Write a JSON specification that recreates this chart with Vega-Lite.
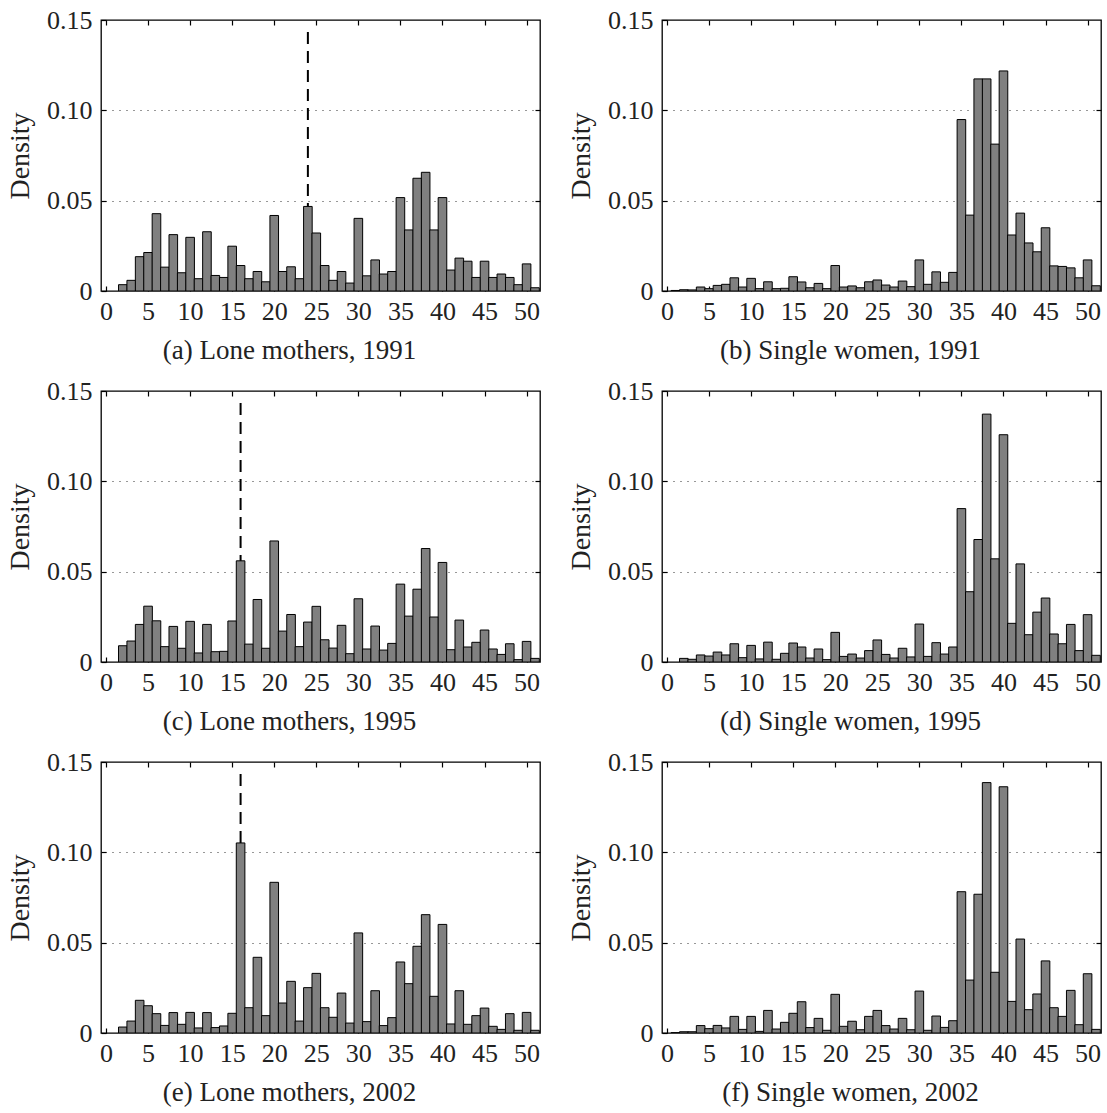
{
  "$schema": "https://vega.github.io/schema/vega-lite/v6.json",
  "background": "white",
  "padding": {"left": 5, "top": 6, "right": 5, "bottom": 5},
  "config": {
    "view": {"stroke": "black", "strokeWidth": 1.3},
    "font": "Liberation Serif",
    "axis": {"labelFont": "Liberation Serif", "titleFont": "Liberation Serif", "labelFontSize": 26, "titleFontSize": 28, "titleFontWeight": "normal", "labelColor": "#222", "titleColor": "#222", "domain": false, "tickColor": "black", "tickSize": -5, "tickWidth": 1.2, "grid": false},
    "axisBottom": {"labelPadding": 12},
    "axisLeft": {"labelPadding": 14, "titlePadding": 12},
    "axisTop": {"labels": false},
    "axisRight": {"labels": false, "grid": true, "gridDash": [1, 6], "gridColor": "#333", "gridWidth": 1.2},
    "title": {"font": "Liberation Serif", "fontSize": 27, "fontWeight": "normal", "color": "#222", "offset": 14, "dx": -31}
  },
  "datasets": {
    "hist": [
      {"p":"a","h":2,"d":0.0035},{"p":"a","h":3,"d":0.0059},{"p":"a","h":4,"d":0.019},{"p":"a","h":5,"d":0.0213},{"p":"a","h":6,"d":0.0428},{"p":"a","h":7,"d":0.0132},{"p":"a","h":8,"d":0.0312},{"p":"a","h":9,"d":0.0101},{"p":"a","h":10,"d":0.0297},{"p":"a","h":11,"d":0.0068},{"p":"a","h":12,"d":0.0328},{"p":"a","h":13,"d":0.0086},{"p":"a","h":14,"d":0.0075},{"p":"a","h":15,"d":0.0248},{"p":"a","h":16,"d":0.0141},{"p":"a","h":17,"d":0.0068},{"p":"a","h":18,"d":0.0108},{"p":"a","h":19,"d":0.0051},{"p":"a","h":20,"d":0.0418},{"p":"a","h":21,"d":0.0108},{"p":"a","h":22,"d":0.0134},{"p":"a","h":23,"d":0.0068},{"p":"a","h":24,"d":0.0468},{"p":"a","h":25,"d":0.0321},{"p":"a","h":26,"d":0.0141},{"p":"a","h":27,"d":0.0059},{"p":"a","h":28,"d":0.0108},{"p":"a","h":29,"d":0.0044},{"p":"a","h":30,"d":0.0402},{"p":"a","h":31,"d":0.0084},{"p":"a","h":32,"d":0.0172},{"p":"a","h":33,"d":0.0094},{"p":"a","h":34,"d":0.0108},{"p":"a","h":35,"d":0.0517},{"p":"a","h":36,"d":0.0338},{"p":"a","h":37,"d":0.0624},{"p":"a","h":38,"d":0.0657},{"p":"a","h":39,"d":0.0338},{"p":"a","h":40,"d":0.0517},{"p":"a","h":41,"d":0.0116},{"p":"a","h":42,"d":0.0182},{"p":"a","h":43,"d":0.0165},{"p":"a","h":44,"d":0.0075},{"p":"a","h":45,"d":0.0165},{"p":"a","h":46,"d":0.0075},{"p":"a","h":47,"d":0.0094},{"p":"a","h":48,"d":0.0075},{"p":"a","h":49,"d":0.0035},{"p":"a","h":50,"d":0.015},{"p":"a","h":51,"d":0.0018},
      {"p":"b","h":1,"d":0.0003},{"p":"b","h":2,"d":0.0007},{"p":"b","h":3,"d":0.0006},{"p":"b","h":4,"d":0.0022},{"p":"b","h":5,"d":0.0013},{"p":"b","h":6,"d":0.0031},{"p":"b","h":7,"d":0.0037},{"p":"b","h":8,"d":0.0073},{"p":"b","h":9,"d":0.0022},{"p":"b","h":10,"d":0.007},{"p":"b","h":11,"d":0.0013},{"p":"b","h":12,"d":0.0051},{"p":"b","h":13,"d":0.0013},{"p":"b","h":14,"d":0.0015},{"p":"b","h":15,"d":0.0079},{"p":"b","h":16,"d":0.005},{"p":"b","h":17,"d":0.0018},{"p":"b","h":18,"d":0.0042},{"p":"b","h":19,"d":0.0013},{"p":"b","h":20,"d":0.0141},{"p":"b","h":21,"d":0.0022},{"p":"b","h":22,"d":0.0028},{"p":"b","h":23,"d":0.0018},{"p":"b","h":24,"d":0.0051},{"p":"b","h":25,"d":0.0061},{"p":"b","h":26,"d":0.0033},{"p":"b","h":27,"d":0.0022},{"p":"b","h":28,"d":0.0055},{"p":"b","h":29,"d":0.0024},{"p":"b","h":30,"d":0.0172},{"p":"b","h":31,"d":0.0037},{"p":"b","h":32,"d":0.0106},{"p":"b","h":33,"d":0.0048},{"p":"b","h":34,"d":0.0103},{"p":"b","h":35,"d":0.0949},{"p":"b","h":36,"d":0.042},{"p":"b","h":37,"d":0.1174},{"p":"b","h":38,"d":0.1174},{"p":"b","h":39,"d":0.0813},{"p":"b","h":40,"d":0.1218},{"p":"b","h":41,"d":0.031},{"p":"b","h":42,"d":0.0431},{"p":"b","h":43,"d":0.0266},{"p":"b","h":44,"d":0.0217},{"p":"b","h":45,"d":0.035},{"p":"b","h":46,"d":0.0139},{"p":"b","h":47,"d":0.0136},{"p":"b","h":48,"d":0.0128},{"p":"b","h":49,"d":0.0073},{"p":"b","h":50,"d":0.0172},{"p":"b","h":51,"d":0.0029},
      {"p":"c","h":2,"d":0.009},{"p":"c","h":3,"d":0.0116},{"p":"c","h":4,"d":0.0208},{"p":"c","h":5,"d":0.0309},{"p":"c","h":6,"d":0.0228},{"p":"c","h":7,"d":0.0085},{"p":"c","h":8,"d":0.0197},{"p":"c","h":9,"d":0.0076},{"p":"c","h":10,"d":0.0225},{"p":"c","h":11,"d":0.005},{"p":"c","h":12,"d":0.0208},{"p":"c","h":13,"d":0.0057},{"p":"c","h":14,"d":0.0059},{"p":"c","h":15,"d":0.0227},{"p":"c","h":16,"d":0.056},{"p":"c","h":17,"d":0.0099},{"p":"c","h":18,"d":0.0346},{"p":"c","h":19,"d":0.0076},{"p":"c","h":20,"d":0.067},{"p":"c","h":21,"d":0.0171},{"p":"c","h":22,"d":0.0263},{"p":"c","h":23,"d":0.0085},{"p":"c","h":24,"d":0.0221},{"p":"c","h":25,"d":0.0308},{"p":"c","h":26,"d":0.0123},{"p":"c","h":27,"d":0.0077},{"p":"c","h":28,"d":0.0203},{"p":"c","h":29,"d":0.0046},{"p":"c","h":30,"d":0.035},{"p":"c","h":31,"d":0.0072},{"p":"c","h":32,"d":0.0199},{"p":"c","h":33,"d":0.0066},{"p":"c","h":34,"d":0.0103},{"p":"c","h":35,"d":0.0431},{"p":"c","h":36,"d":0.0254},{"p":"c","h":37,"d":0.0403},{"p":"c","h":38,"d":0.0628},{"p":"c","h":39,"d":0.0249},{"p":"c","h":40,"d":0.0551},{"p":"c","h":41,"d":0.0068},{"p":"c","h":42,"d":0.0232},{"p":"c","h":43,"d":0.0083},{"p":"c","h":44,"d":0.0109},{"p":"c","h":45,"d":0.0177},{"p":"c","h":46,"d":0.0072},{"p":"c","h":47,"d":0.0042},{"p":"c","h":48,"d":0.0101},{"p":"c","h":49,"d":0.0013},{"p":"c","h":50,"d":0.0114},{"p":"c","h":51,"d":0.002},
      {"p":"d","h":2,"d":0.002},{"p":"d","h":3,"d":0.0015},{"p":"d","h":4,"d":0.0039},{"p":"d","h":5,"d":0.0033},{"p":"d","h":6,"d":0.0055},{"p":"d","h":7,"d":0.0039},{"p":"d","h":8,"d":0.0101},{"p":"d","h":9,"d":0.0024},{"p":"d","h":10,"d":0.0092},{"p":"d","h":11,"d":0.0017},{"p":"d","h":12,"d":0.011},{"p":"d","h":13,"d":0.0015},{"p":"d","h":14,"d":0.0048},{"p":"d","h":15,"d":0.0105},{"p":"d","h":16,"d":0.0083},{"p":"d","h":17,"d":0.0022},{"p":"d","h":18,"d":0.0072},{"p":"d","h":19,"d":0.0013},{"p":"d","h":20,"d":0.0164},{"p":"d","h":21,"d":0.0031},{"p":"d","h":22,"d":0.0044},{"p":"d","h":23,"d":0.0022},{"p":"d","h":24,"d":0.0063},{"p":"d","h":25,"d":0.0122},{"p":"d","h":26,"d":0.0042},{"p":"d","h":27,"d":0.0022},{"p":"d","h":28,"d":0.0076},{"p":"d","h":29,"d":0.0028},{"p":"d","h":30,"d":0.021},{"p":"d","h":31,"d":0.0031},{"p":"d","h":32,"d":0.0107},{"p":"d","h":33,"d":0.0044},{"p":"d","h":34,"d":0.0083},{"p":"d","h":35,"d":0.0849},{"p":"d","h":36,"d":0.0389},{"p":"d","h":37,"d":0.0678},{"p":"d","h":38,"d":0.1372},{"p":"d","h":39,"d":0.0571},{"p":"d","h":40,"d":0.1258},{"p":"d","h":41,"d":0.0214},{"p":"d","h":42,"d":0.0543},{"p":"d","h":43,"d":0.0151},{"p":"d","h":44,"d":0.0276},{"p":"d","h":45,"d":0.0354},{"p":"d","h":46,"d":0.0155},{"p":"d","h":47,"d":0.0101},{"p":"d","h":48,"d":0.0208},{"p":"d","h":49,"d":0.0063},{"p":"d","h":50,"d":0.0262},{"p":"d","h":51,"d":0.0037},
      {"p":"e","h":2,"d":0.0033},{"p":"e","h":3,"d":0.0066},{"p":"e","h":4,"d":0.0181},{"p":"e","h":5,"d":0.0151},{"p":"e","h":6,"d":0.0107},{"p":"e","h":7,"d":0.0042},{"p":"e","h":8,"d":0.0113},{"p":"e","h":9,"d":0.0048},{"p":"e","h":10,"d":0.0114},{"p":"e","h":11,"d":0.0028},{"p":"e","h":12,"d":0.0113},{"p":"e","h":13,"d":0.003},{"p":"e","h":14,"d":0.0039},{"p":"e","h":15,"d":0.0109},{"p":"e","h":16,"d":0.1052},{"p":"e","h":17,"d":0.014},{"p":"e","h":18,"d":0.0419},{"p":"e","h":19,"d":0.0096},{"p":"e","h":20,"d":0.0834},{"p":"e","h":21,"d":0.0166},{"p":"e","h":22,"d":0.0286},{"p":"e","h":23,"d":0.0066},{"p":"e","h":24,"d":0.0251},{"p":"e","h":25,"d":0.033},{"p":"e","h":26,"d":0.014},{"p":"e","h":27,"d":0.0087},{"p":"e","h":28,"d":0.0221},{"p":"e","h":29,"d":0.0055},{"p":"e","h":30,"d":0.0554},{"p":"e","h":31,"d":0.0063},{"p":"e","h":32,"d":0.0234},{"p":"e","h":33,"d":0.0041},{"p":"e","h":34,"d":0.0085},{"p":"e","h":35,"d":0.0393},{"p":"e","h":36,"d":0.0273},{"p":"e","h":37,"d":0.048},{"p":"e","h":38,"d":0.0655},{"p":"e","h":39,"d":0.0203},{"p":"e","h":40,"d":0.0601},{"p":"e","h":41,"d":0.005},{"p":"e","h":42,"d":0.0234},{"p":"e","h":43,"d":0.0048},{"p":"e","h":44,"d":0.0096},{"p":"e","h":45,"d":0.0138},{"p":"e","h":46,"d":0.0037},{"p":"e","h":47,"d":0.002},{"p":"e","h":48,"d":0.0107},{"p":"e","h":49,"d":0.0015},{"p":"e","h":50,"d":0.0114},{"p":"e","h":51,"d":0.0015},
      {"p":"f","h":1,"d":0.0002},{"p":"f","h":2,"d":0.0007},{"p":"f","h":3,"d":0.0007},{"p":"f","h":4,"d":0.0041},{"p":"f","h":5,"d":0.0024},{"p":"f","h":6,"d":0.0042},{"p":"f","h":7,"d":0.0028},{"p":"f","h":8,"d":0.0092},{"p":"f","h":9,"d":0.002},{"p":"f","h":10,"d":0.0092},{"p":"f","h":11,"d":0.0009},{"p":"f","h":12,"d":0.0125},{"p":"f","h":13,"d":0.0022},{"p":"f","h":14,"d":0.0059},{"p":"f","h":15,"d":0.0109},{"p":"f","h":16,"d":0.0173},{"p":"f","h":17,"d":0.003},{"p":"f","h":18,"d":0.0081},{"p":"f","h":19,"d":0.0015},{"p":"f","h":20,"d":0.0214},{"p":"f","h":21,"d":0.0037},{"p":"f","h":22,"d":0.0065},{"p":"f","h":23,"d":0.0018},{"p":"f","h":24,"d":0.0092},{"p":"f","h":25,"d":0.0125},{"p":"f","h":26,"d":0.0041},{"p":"f","h":27,"d":0.0022},{"p":"f","h":28,"d":0.0081},{"p":"f","h":29,"d":0.0018},{"p":"f","h":30,"d":0.0232},{"p":"f","h":31,"d":0.0015},{"p":"f","h":32,"d":0.0094},{"p":"f","h":33,"d":0.0031},{"p":"f","h":34,"d":0.0068},{"p":"f","h":35,"d":0.0782},{"p":"f","h":36,"d":0.0293},{"p":"f","h":37,"d":0.0768},{"p":"f","h":38,"d":0.1386},{"p":"f","h":39,"d":0.0336},{"p":"f","h":40,"d":0.1363},{"p":"f","h":41,"d":0.0175},{"p":"f","h":42,"d":0.052},{"p":"f","h":43,"d":0.0129},{"p":"f","h":44,"d":0.0216},{"p":"f","h":45,"d":0.0399},{"p":"f","h":46,"d":0.014},{"p":"f","h":47,"d":0.0092},{"p":"f","h":48,"d":0.0236},{"p":"f","h":49,"d":0.0046},{"p":"f","h":50,"d":0.0328},{"p":"f","h":51,"d":0.002}
    ],
    "cut": [{"p":"a","h":24},{"p":"c","h":16},{"p":"e","h":16}]
  },
  "columns": 2,
  "spacing": {"column": 24, "row": 12},
  "concat": [
    {"title": {"text": "(a) Lone mothers, 1991", "orient": "bottom"}, "width": 439, "height": 271,
     "layer": [
      {"data": {"name": "cut"}, "transform": [{"filter": "datum.p == 'a'"}], "mark": {"type": "rule", "strokeDash": [12, 7], "strokeWidth": 2, "color": "black"},
       "encoding": {"x": {"field": "h", "type": "quantitative", "scale": {"domain": [0, 51], "nice": false}, "axis": {"orient": "top", "values": [0,5,10,15,20,25,30,35,40,45,50], "title": null}},
                    "y": {"datum": 0, "type": "quantitative", "scale": {"domain": [0, 0.15], "nice": false}, "axis": {"orient": "right", "values": [0.05, 0.1], "title": null}},
                    "y2": {"datum": 0.144}}},
      {"data": {"name": "hist"}, "transform": [{"filter": "datum.p == 'a'"}], "mark": {"type": "bar", "width": 8.6, "fill": "#808080", "stroke": "black", "strokeWidth": 1, "clip": true},
       "encoding": {"x": {"field": "h", "type": "quantitative", "axis": {"orient": "bottom", "values": [0,5,10,15,20,25,30,35,40,45,50], "title": null}},
                    "y": {"field": "d", "type": "quantitative", "axis": {"orient": "left", "values": [0, 0.05, 0.1, 0.15], "labelExpr": "datum.value == 0 ? '0' : format(datum.value, '.2f')", "title": "Density"}}}}
     ],
     "resolve": {"axis": {"x": "independent", "y": "independent"}}},
    {"title": {"text": "(b) Single women, 1991", "orient": "bottom"}, "width": 439, "height": 271,
     "layer": [
      {"data": {"name": "cut"}, "transform": [{"filter": "datum.p == 'b'"}], "mark": {"type": "rule", "strokeDash": [12, 7], "strokeWidth": 2, "color": "black"},
       "encoding": {"x": {"field": "h", "type": "quantitative", "scale": {"domain": [0, 51], "nice": false}, "axis": {"orient": "top", "values": [0,5,10,15,20,25,30,35,40,45,50], "title": null}},
                    "y": {"datum": 0, "type": "quantitative", "scale": {"domain": [0, 0.15], "nice": false}, "axis": {"orient": "right", "values": [0.05, 0.1], "title": null}},
                    "y2": {"datum": 0.144}}},
      {"data": {"name": "hist"}, "transform": [{"filter": "datum.p == 'b'"}], "mark": {"type": "bar", "width": 8.6, "fill": "#808080", "stroke": "black", "strokeWidth": 1, "clip": true},
       "encoding": {"x": {"field": "h", "type": "quantitative", "axis": {"orient": "bottom", "values": [0,5,10,15,20,25,30,35,40,45,50], "title": null}},
                    "y": {"field": "d", "type": "quantitative", "axis": {"orient": "left", "values": [0, 0.05, 0.1, 0.15], "labelExpr": "datum.value == 0 ? '0' : format(datum.value, '.2f')", "title": "Density"}}}}
     ],
     "resolve": {"axis": {"x": "independent", "y": "independent"}}},
    {"title": {"text": "(c) Lone mothers, 1995", "orient": "bottom"}, "width": 439, "height": 271,
     "layer": [
      {"data": {"name": "cut"}, "transform": [{"filter": "datum.p == 'c'"}], "mark": {"type": "rule", "strokeDash": [12, 7], "strokeWidth": 2, "color": "black"},
       "encoding": {"x": {"field": "h", "type": "quantitative", "scale": {"domain": [0, 51], "nice": false}, "axis": {"orient": "top", "values": [0,5,10,15,20,25,30,35,40,45,50], "title": null}},
                    "y": {"datum": 0, "type": "quantitative", "scale": {"domain": [0, 0.15], "nice": false}, "axis": {"orient": "right", "values": [0.05, 0.1], "title": null}},
                    "y2": {"datum": 0.144}}},
      {"data": {"name": "hist"}, "transform": [{"filter": "datum.p == 'c'"}], "mark": {"type": "bar", "width": 8.6, "fill": "#808080", "stroke": "black", "strokeWidth": 1, "clip": true},
       "encoding": {"x": {"field": "h", "type": "quantitative", "axis": {"orient": "bottom", "values": [0,5,10,15,20,25,30,35,40,45,50], "title": null}},
                    "y": {"field": "d", "type": "quantitative", "axis": {"orient": "left", "values": [0, 0.05, 0.1, 0.15], "labelExpr": "datum.value == 0 ? '0' : format(datum.value, '.2f')", "title": "Density"}}}}
     ],
     "resolve": {"axis": {"x": "independent", "y": "independent"}}},
    {"title": {"text": "(d) Single women, 1995", "orient": "bottom"}, "width": 439, "height": 271,
     "layer": [
      {"data": {"name": "cut"}, "transform": [{"filter": "datum.p == 'd'"}], "mark": {"type": "rule", "strokeDash": [12, 7], "strokeWidth": 2, "color": "black"},
       "encoding": {"x": {"field": "h", "type": "quantitative", "scale": {"domain": [0, 51], "nice": false}, "axis": {"orient": "top", "values": [0,5,10,15,20,25,30,35,40,45,50], "title": null}},
                    "y": {"datum": 0, "type": "quantitative", "scale": {"domain": [0, 0.15], "nice": false}, "axis": {"orient": "right", "values": [0.05, 0.1], "title": null}},
                    "y2": {"datum": 0.144}}},
      {"data": {"name": "hist"}, "transform": [{"filter": "datum.p == 'd'"}], "mark": {"type": "bar", "width": 8.6, "fill": "#808080", "stroke": "black", "strokeWidth": 1, "clip": true},
       "encoding": {"x": {"field": "h", "type": "quantitative", "axis": {"orient": "bottom", "values": [0,5,10,15,20,25,30,35,40,45,50], "title": null}},
                    "y": {"field": "d", "type": "quantitative", "axis": {"orient": "left", "values": [0, 0.05, 0.1, 0.15], "labelExpr": "datum.value == 0 ? '0' : format(datum.value, '.2f')", "title": "Density"}}}}
     ],
     "resolve": {"axis": {"x": "independent", "y": "independent"}}},
    {"title": {"text": "(e) Lone mothers, 2002", "orient": "bottom"}, "width": 439, "height": 271,
     "layer": [
      {"data": {"name": "cut"}, "transform": [{"filter": "datum.p == 'e'"}], "mark": {"type": "rule", "strokeDash": [12, 7], "strokeWidth": 2, "color": "black"},
       "encoding": {"x": {"field": "h", "type": "quantitative", "scale": {"domain": [0, 51], "nice": false}, "axis": {"orient": "top", "values": [0,5,10,15,20,25,30,35,40,45,50], "title": null}},
                    "y": {"datum": 0, "type": "quantitative", "scale": {"domain": [0, 0.15], "nice": false}, "axis": {"orient": "right", "values": [0.05, 0.1], "title": null}},
                    "y2": {"datum": 0.144}}},
      {"data": {"name": "hist"}, "transform": [{"filter": "datum.p == 'e'"}], "mark": {"type": "bar", "width": 8.6, "fill": "#808080", "stroke": "black", "strokeWidth": 1, "clip": true},
       "encoding": {"x": {"field": "h", "type": "quantitative", "axis": {"orient": "bottom", "values": [0,5,10,15,20,25,30,35,40,45,50], "title": null}},
                    "y": {"field": "d", "type": "quantitative", "axis": {"orient": "left", "values": [0, 0.05, 0.1, 0.15], "labelExpr": "datum.value == 0 ? '0' : format(datum.value, '.2f')", "title": "Density"}}}}
     ],
     "resolve": {"axis": {"x": "independent", "y": "independent"}}},
    {"title": {"text": "(f) Single women, 2002", "orient": "bottom"}, "width": 439, "height": 271,
     "layer": [
      {"data": {"name": "cut"}, "transform": [{"filter": "datum.p == 'f'"}], "mark": {"type": "rule", "strokeDash": [12, 7], "strokeWidth": 2, "color": "black"},
       "encoding": {"x": {"field": "h", "type": "quantitative", "scale": {"domain": [0, 51], "nice": false}, "axis": {"orient": "top", "values": [0,5,10,15,20,25,30,35,40,45,50], "title": null}},
                    "y": {"datum": 0, "type": "quantitative", "scale": {"domain": [0, 0.15], "nice": false}, "axis": {"orient": "right", "values": [0.05, 0.1], "title": null}},
                    "y2": {"datum": 0.144}}},
      {"data": {"name": "hist"}, "transform": [{"filter": "datum.p == 'f'"}], "mark": {"type": "bar", "width": 8.6, "fill": "#808080", "stroke": "black", "strokeWidth": 1, "clip": true},
       "encoding": {"x": {"field": "h", "type": "quantitative", "axis": {"orient": "bottom", "values": [0,5,10,15,20,25,30,35,40,45,50], "title": null}},
                    "y": {"field": "d", "type": "quantitative", "axis": {"orient": "left", "values": [0, 0.05, 0.1, 0.15], "labelExpr": "datum.value == 0 ? '0' : format(datum.value, '.2f')", "title": "Density"}}}}
     ],
     "resolve": {"axis": {"x": "independent", "y": "independent"}}}
  ]
}
